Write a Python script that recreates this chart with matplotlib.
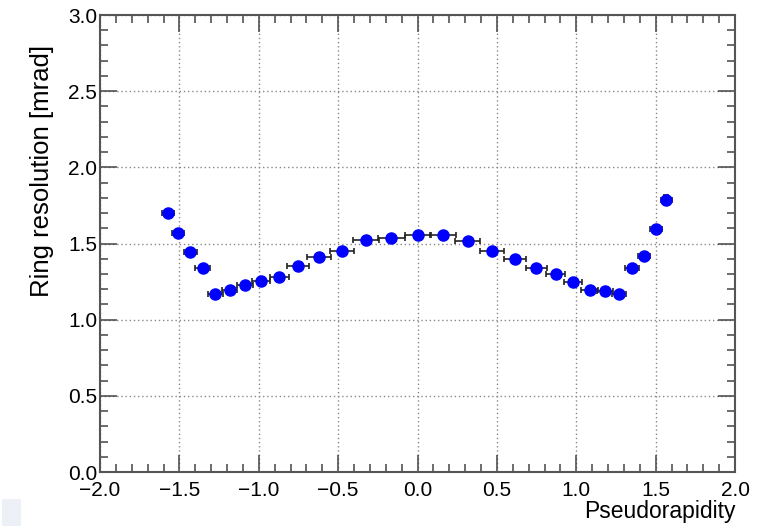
#!/usr/bin/env python3

from matplotlib import pyplot as plt
from matplotlib.patches import Rectangle
from matplotlib.ticker import MultipleLocator
import numpy as np

# ring resolution per pseudorapidity bin
eta = [-1.572, -1.509, -1.430, -1.354, -1.273, -1.184, -1.088, -0.987, -0.872, -0.753,
       -0.619, -0.473, -0.323, -0.164, 0.002, 0.161, 0.316, 0.471, 0.613, 0.749,
       0.870, 0.982, 1.086, 1.180, 1.269, 1.349, 1.428, 1.504, 1.568]
eta_err = [0.037, 0.040, 0.043, 0.047, 0.047, 0.045, 0.052, 0.055, 0.060, 0.068,
           0.074, 0.076, 0.083, 0.083, 0.080, 0.083, 0.079, 0.076, 0.071, 0.067,
           0.059, 0.057, 0.053, 0.050, 0.045, 0.044, 0.037, 0.037, 0.037]
resolution = [1.699, 1.570, 1.447, 1.340, 1.171, 1.197, 1.230, 1.252, 1.283, 1.353,
              1.414, 1.454, 1.524, 1.537, 1.553, 1.553, 1.518, 1.452, 1.400, 1.340,
              1.303, 1.245, 1.197, 1.191, 1.171, 1.342, 1.421, 1.597, 1.788]
resolution_err = [0.022, 0.016, 0.012, 0.010, 0.010, 0.009, 0.009, 0.009, 0.009, 0.009,
                  0.009, 0.009, 0.009, 0.009, 0.009, 0.009, 0.009, 0.009, 0.009, 0.009,
                  0.009, 0.009, 0.009, 0.009, 0.010, 0.011, 0.013, 0.020, 0.028]


def main():
    plt.rcParams["font.family"] = ["Liberation Sans", "DejaVu Sans"]

    fig = plt.figure(figsize=(7.64, 5.26), dpi=100)
    ax = fig.add_axes([100 / 764, 1 - 472 / 526, 635 / 764, 457 / 526])

    ax.errorbar(eta, resolution, xerr=eta_err, yerr=resolution_err, fmt="o",
                color="#0000ff", markersize=8, ecolor="#222222", elinewidth=1.2,
                capsize=2.2, capthick=1.2, zorder=3)

    ax.set_xlim(-2.0, 2.0)
    ax.set_ylim(0.0, 3.0)
    ax.xaxis.set_major_locator(MultipleLocator(0.5))
    ax.xaxis.set_minor_locator(MultipleLocator(0.1))
    ax.yaxis.set_major_locator(MultipleLocator(0.5))
    ax.yaxis.set_minor_locator(MultipleLocator(0.1))
    ax.xaxis.set_major_formatter(lambda v, pos: f"{v:.1f}".replace("-", "\u2212"))
    ax.yaxis.set_major_formatter(lambda v, pos: f"{v:.1f}")

    ax.tick_params(which="both", direction="in", top=True, right=True,
                   colors="#444444", labelcolor="black", labelsize=15, width=1.1)
    ax.tick_params(which="major", length=12)
    ax.tick_params(which="minor", length=6)
    ax.tick_params(axis="x", pad=6.5)
    ax.tick_params(axis="y", pad=2)

    ax.grid(True, which="major", color="#888888", linestyle=(0, (1, 2)), linewidth=1.0)
    ax.set_axisbelow(True)
    for s in ax.spines.values():
        s.set_color("#555555")
        s.set_linewidth(1.5)

    fig.text(736 / 764, 1 - 518 / 526, "Pseudorapidity", fontsize=16.5,
             ha="right", va="baseline")
    fig.text(42 / 764, 1 - 45 / 526, "Ring resolution [mrad]", fontsize=18.5,
             rotation=90, ha="center", va="top")

    fig.patches.append(Rectangle((2 / 764, 0), 19 / 764, 27 / 526, transform=fig.transFigure,
                                 facecolor="#eef0f8", edgecolor="none"))

    fig.savefig("out.png", dpi=100)


if __name__ == "__main__":
    main()
